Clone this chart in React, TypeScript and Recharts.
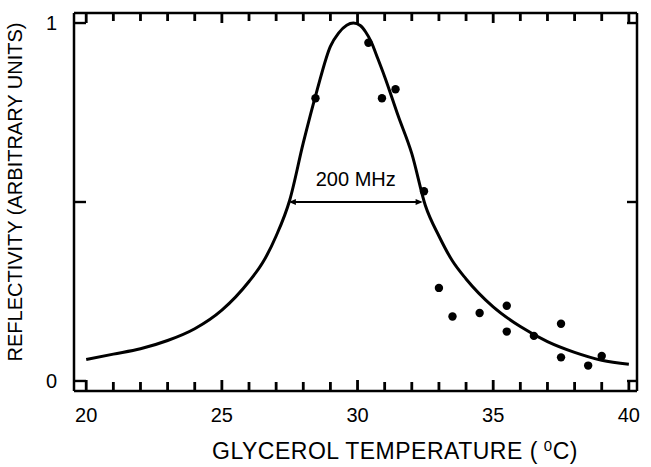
import React from "react";
import {
  ComposedChart,
  Line,
  Scatter,
  XAxis,
  YAxis,
  ReferenceLine,
  Label,
} from "recharts";

// fitted curve
const curveTemp = [20, 21, 22, 23, 24, 25, 26, 26.5, 27, 27.5, 28, 28.5, 29, 29.3, 29.6, 29.85, 30.1, 30.3, 30.5, 30.75, 31, 31.5, 32, 32.5, 33, 33.5, 34, 35, 36, 37, 38, 39, 40];
const curveRefl = [0.06, 0.075, 0.09, 0.113, 0.146, 0.198, 0.278, 0.33, 0.405, 0.505, 0.665, 0.81, 0.935, 0.972, 0.994, 1.0, 0.993, 0.975, 0.948, 0.9, 0.85, 0.74, 0.635, 0.49, 0.405, 0.335, 0.285, 0.207, 0.152, 0.11, 0.08, 0.058, 0.047];

// measured points
const pointTemp = [28.45, 30.4, 30.9, 31.4, 32.45, 33.0, 33.5, 34.5, 35.5, 35.5, 36.5, 37.5, 37.5, 38.5, 39.0];
const pointRefl = [0.79, 0.945, 0.79, 0.815, 0.53, 0.26, 0.18, 0.19, 0.21, 0.138, 0.126, 0.16, 0.066, 0.043, 0.07];

const tempTicks = [20, 21, 22, 23, 24, 25, 26, 27, 28, 29, 30, 31, 32, 33, 34, 35, 36, 37, 38, 39, 40];
const tempLabels = [20, 25, 30, 35, 40];
const reflTicks = [0, 0.5, 1];
const reflLabels = [0, 1];

const fwhmFrom = 27.47;
const fwhmTo = 32.4;
const fwhmLevel = 0.5;

const tempDomain = [19.55, 40.3];
const reflDomain = [-0.028, 1.028];

const curve = curveTemp.map((t, i) => ({ t, r: curveRefl[i] }));
const points = pointTemp.map((t, i) => ({ t, r: pointRefl[i] }));

// tick marks placed through the chart's scales, drawn inward from the frame
const bottomMarks = tempTicks.map((t) => ({ t, r: reflDomain[0], side: "b" }));
const topMarks = tempTicks.map((t) => ({ t, r: reflDomain[1], side: "t" }));
const leftMarks = reflTicks.map((r) => ({ t: tempDomain[0], r, side: "l" }));
const rightMarks = reflTicks.map((r) => ({ t: tempDomain[1], r, side: "r" }));
const frameMarks = [...bottomMarks, ...topMarks, ...leftMarks, ...rightMarks];

// frame geometry
const W = 651;
const H = 467;
const TOP = 13;
const LEFT = 74;
const RIGHT = 637;
const BOTTOM = 391;

const font = "'Liberation Sans', Arial, Helvetica, sans-serif";

const TickMark = (props: any) => {
  const { cx, cy, payload } = props;
  const major = tempLabels.includes(payload.t);
  if (payload.side === "b") {
    const len = major ? 11 : 9;
    return <rect x={cx - 1.4} y={cy - len} width={2.8} height={len} fill="#000" />;
  }
  if (payload.side === "t") {
    const len = major ? 10 : 8;
    return <rect x={cx - 1.4} y={cy} width={2.8} height={len} fill="#000" />;
  }
  if (payload.side === "l") return <rect x={cx} y={cy - 1.2} width={12} height={2.4} fill="#000" />;
  return <rect x={cx - 10} y={cy - 1.2} width={10} height={2.4} fill="#000" />;
};

const BottomLabel = (props: any) => {
  const { x, payload } = props;
  const v = payload.value;
  if (!tempLabels.includes(v)) return <g />;
  return (
    <text x={x} y={BOTTOM + 31} textAnchor="middle" fontSize={20} fontFamily={font} fill="#000">
      {v}
    </text>
  );
};

const LeftLabel = (props: any) => {
  const { y, payload } = props;
  const v = payload.value;
  if (!reflLabels.includes(v)) return <g />;
  return (
    <text x={LEFT - 17} y={y + 7} textAnchor="end" fontSize={20} fontFamily={font} fill="#000">
      {v}
    </text>
  );
};

const WidthArrow = (props: any) => {
  const { x1, y1, x2, y2 } = props;
  const a = 7;
  return (
    <g>
      <line x1={x1 + 2} y1={y1} x2={x2 - 2} y2={y2} stroke="#000" strokeWidth={1.8} />
      <path d={`M${x1},${y1} L${x1 + a},${y1 - 3} L${x1 + a},${y1 + 3} Z`} fill="#000" />
      <path d={`M${x2},${y2} L${x2 - a},${y2 - 3} L${x2 - a},${y2 + 3} Z`} fill="#000" />
      <text x={(x1 + x2) / 2} y={y1 - 16} textAnchor="middle" fontSize={20} fontFamily={font} fill="#000">
        200 MHz
      </text>
    </g>
  );
};

const XTitle = () => (
  <text x={395} y={459} textAnchor="middle" fontSize={23} letterSpacing={0.5} fontFamily={font} fill="#000">
    GLYCEROL TEMPERATURE (
    <tspan fontSize={15} dx={6} dy={-8}>0</tspan>
    <tspan dy={8}>C)</tspan>
  </text>
);

const YTitle = () => (
  <text
    x={0}
    y={0}
    transform="translate(22, 192) rotate(-90)"
    textAnchor="middle"
    fontSize={20}
    fontFamily={font}
    fill="#000"
  >
    REFLECTIVITY (ARBITRARY UNITS)
  </text>
);

const axisLine = { stroke: "#000", strokeWidth: 2.5 };

export default function App() {
  return (
    <div style={{ width: W, height: H, background: "#fff" }}>
      <style>{"body{margin:0}"}</style>
      <ComposedChart
        width={W}
        height={H}
        margin={{ top: TOP - 1, right: W - RIGHT - 1, bottom: 0, left: 0 }}
      >
        <XAxis
          xAxisId="b"
          type="number"
          dataKey="t"
          domain={tempDomain}
          ticks={tempTicks}
          allowDataOverflow
          height={H - BOTTOM}
          tickSize={0}
          tickMargin={0}
          tickLine={false}
          tick={<BottomLabel />}
          axisLine={axisLine}
          interval={0}
        >
          <Label content={<XTitle />} />
        </XAxis>
        <XAxis
          xAxisId="t"
          orientation="top"
          type="number"
          dataKey="t"
          domain={tempDomain}
          allowDataOverflow
          height={1}
          tick={false}
          tickLine={false}
          axisLine={axisLine}
        />
        <YAxis
          yAxisId="l"
          type="number"
          dataKey="r"
          domain={reflDomain}
          ticks={reflTicks}
          allowDataOverflow
          width={LEFT}
          tickSize={0}
          tickMargin={0}
          tickLine={false}
          tick={<LeftLabel />}
          axisLine={axisLine}
          interval={0}
        >
          <Label content={<YTitle />} />
        </YAxis>
        <YAxis
          yAxisId="r"
          orientation="right"
          type="number"
          dataKey="r"
          domain={reflDomain}
          allowDataOverflow
          width={1}
          tick={false}
          tickLine={false}
          axisLine={axisLine}
        />

        <Scatter
          xAxisId="b"
          yAxisId="l"
          data={frameMarks}
          dataKey="r"
          shape={<TickMark />}
          isAnimationActive={false}
        />

        <Line
          xAxisId="b"
          yAxisId="l"
          data={curve}
          dataKey="r"
          type="monotone"
          stroke="#000"
          strokeWidth={3}
          dot={false}
          activeDot={false}
          isAnimationActive={false}
        />
        <Scatter
          xAxisId="b"
          yAxisId="l"
          data={points}
          dataKey="r"
          fill="#000"
          shape={(p: any) => <circle cx={p.cx} cy={p.cy} r={4.2} fill="#000" />}
          isAnimationActive={false}
        />
        <ReferenceLine
          xAxisId="b"
          yAxisId="l"
          ifOverflow="visible"
          segment={[
            { x: fwhmFrom, y: fwhmLevel },
            { x: fwhmTo, y: fwhmLevel },
          ]}
          shape={<WidthArrow />}
        />
      </ComposedChart>
    </div>
  );
}
